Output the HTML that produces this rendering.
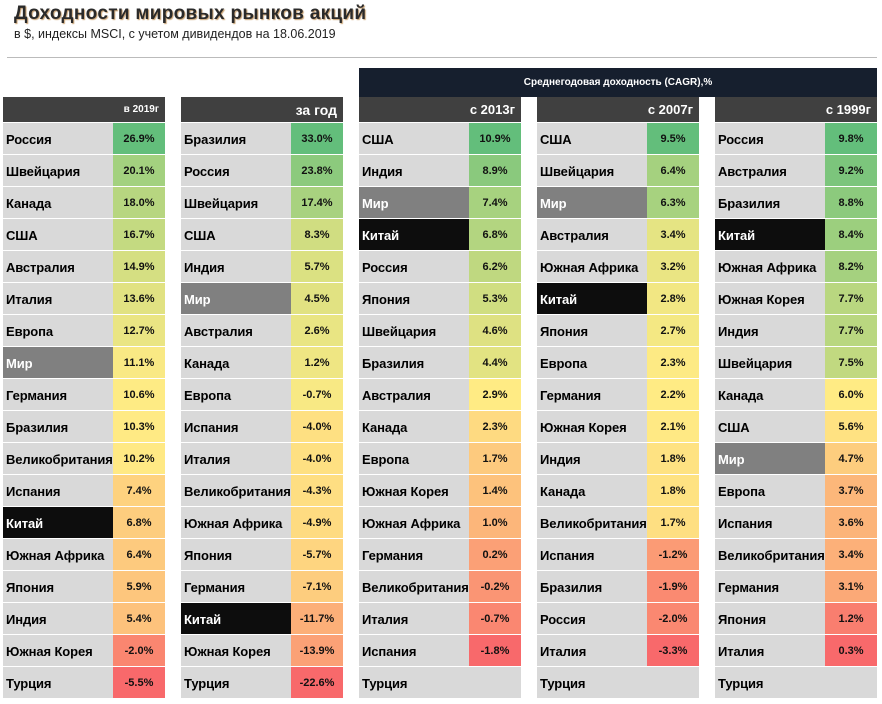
<!DOCTYPE html><html><head><meta charset="utf-8"><style>
body{margin:0;width:882px;height:704px;background:#fff;position:relative;font-family:"Liberation Sans",sans-serif;overflow:hidden}
.t{position:absolute;left:14px;top:3px;font-size:19px;font-weight:bold;color:#2a2a2a;text-shadow:1px 1px 1px #c8a070;letter-spacing:0.3px}
.s{position:absolute;left:14px;top:27px;font-size:12.5px;color:#222}
.ln{position:absolute;left:7px;top:57px;width:870px;height:1px;background:#bbb}
.top{position:absolute;left:359px;top:68px;width:518px;height:29px;background:#161f2e;color:#fff;font-size:10px;font-weight:bold;text-align:center;line-height:29px}
.h{position:absolute;height:25px;background:#404040;color:#fff;font-weight:bold;text-align:right;box-sizing:border-box;padding-right:6px;line-height:26px;width:162px}
.n,.v{position:absolute;height:31px;line-height:33px;font-weight:bold;box-sizing:border-box}
.n{width:110px;background:#d9d9d9;padding-left:3px;font-size:13px;color:#000;letter-spacing:-0.1px;white-space:nowrap}
.v{width:52px;text-align:center;font-size:11px;color:#111;background:#d9d9d9}
</style></head><body>
<div class="t">Доходности мировых рынков акций</div>
<div class="s">в $, индексы MSCI, с учетом дивидендов на 18.06.2019</div>
<div class="ln"></div>
<div class="top">Среднегодовая доходность (CAGR),%</div>
<div id="root"></div>
<script>
const cols=[
["в 2019г",10,[["Россия",26.9],["Швейцария",20.1],["Канада",18.0],["США",16.7],["Австралия",14.9],["Италия",13.6],["Европа",12.7],["Мир",11.1],["Германия",10.6],["Бразилия",10.3],["Великобритания",10.2],["Испания",7.4],["Китай",6.8],["Южная Африка",6.4],["Япония",5.9],["Индия",5.4],["Южная Корея",-2.0],["Турция",-5.5]]],
["за год",14,[["Бразилия",33.0],["Россия",23.8],["Швейцария",17.4],["США",8.3],["Индия",5.7],["Мир",4.5],["Австралия",2.6],["Канада",1.2],["Европа",-0.7],["Испания",-4.0],["Италия",-4.0],["Великобритания",-4.3],["Южная Африка",-4.9],["Япония",-5.7],["Германия",-7.1],["Китай",-11.7],["Южная Корея",-13.9],["Турция",-22.6]]],
["с 2013г",13,[["США",10.9],["Индия",8.9],["Мир",7.4],["Китай",6.8],["Россия",6.2],["Япония",5.3],["Швейцария",4.6],["Бразилия",4.4],["Австралия",2.9],["Канада",2.3],["Европа",1.7],["Южная Корея",1.4],["Южная Африка",1.0],["Германия",0.2],["Великобритания",-0.2],["Италия",-0.7],["Испания",-1.8],["Турция",null]]],
["с 2007г",13,[["США",9.5],["Швейцария",6.4],["Мир",6.3],["Австралия",3.4],["Южная Африка",3.2],["Китай",2.8],["Япония",2.7],["Европа",2.3],["Германия",2.2],["Южная Корея",2.1],["Индия",1.8],["Канада",1.8],["Великобритания",1.7],["Испания",-1.2],["Бразилия",-1.9],["Россия",-2.0],["Италия",-3.3],["Турция",null]]],
["с 1999г",13,[["Россия",9.8],["Австралия",9.2],["Бразилия",8.8],["Китай",8.4],["Южная Африка",8.2],["Южная Корея",7.7],["Индия",7.7],["Швейцария",7.5],["Канада",6.0],["США",5.6],["Мир",4.7],["Европа",3.7],["Испания",3.6],["Великобритания",3.4],["Германия",3.1],["Япония",1.2],["Италия",0.3],["Турция",null]]]];
const xs=[3,181,359,537,715];
const R=[248,105,107],Y=[255,235,132],G=[99,190,123];
function mix(a,b,t){return 'rgb('+a.map((v,i)=>Math.round(v+(b[i]-v)*t)).join(',')+')'}
let h='';
cols.forEach((c,ci)=>{
 const vals=c[2].map(r=>r[1]).filter(v=>v!==null).sort((a,b)=>a-b);
 const mn=vals[0],mx=vals[vals.length-1];
 const p=(vals.length-1)*0.5,lo=Math.floor(p),md=vals[lo]+(vals[Math.ceil(p)]-vals[lo])*(p-lo);
 h+=`<div class="h" style="left:${xs[ci]}px;top:97px;font-size:${c[1]}px">${c[0]}</div>`;
 c[2].forEach((r,ri)=>{
  const top=123+ri*32;let nb='#d9d9d9',nc='#000';
  if(r[0]==='Мир'){nb='#808080';nc='#fff'}
  if(r[0]==='Китай'){nb='#0d0d0d';nc='#fff'}
  let vb='#d9d9d9',vt='';
  if(r[1]!==null){const v=r[1];vb=v<=md?mix(R,Y,(v-mn)/(md-mn)):mix(Y,G,(v-md)/(mx-md));vt=v.toFixed(1)+'%'}
  h+=`<div class="n" style="left:${xs[ci]}px;top:${top}px;background:${nb};color:${nc}">${r[0]}</div><div class="v" style="left:${xs[ci]+110}px;top:${top}px;background:${vb}">${vt}</div>`;
 });
});
document.getElementById('root').innerHTML=h;
</script>
</body></html>
